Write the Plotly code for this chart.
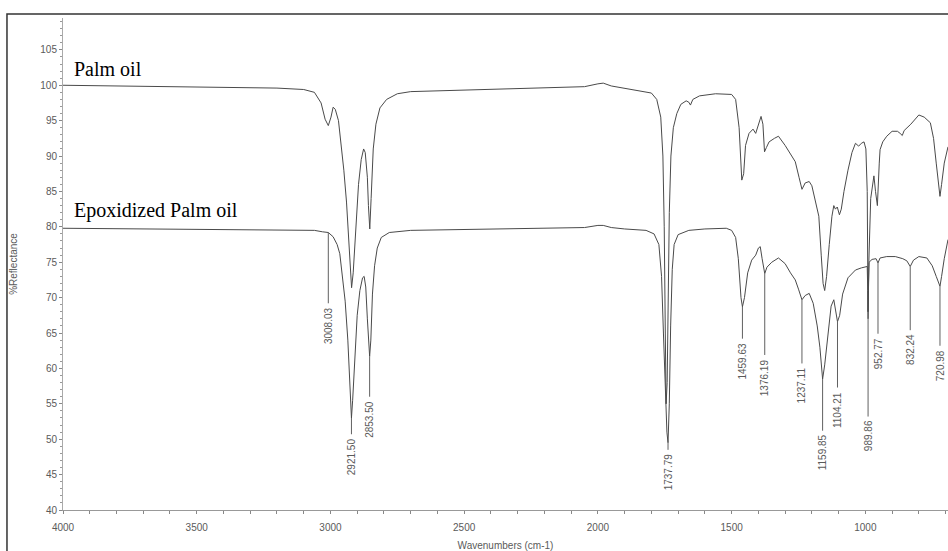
import plotly.graph_objects as go

# FT-IR spectra, wavenumber (cm-1) vs % reflectance
palm_wn = [4000, 3800, 3600, 3400, 3200, 3100, 3060, 3035, 3020, 3008, 2998, 2990, 2982,
           2970, 2960, 2950, 2940, 2932, 2925, 2921, 2915, 2905, 2895, 2885, 2876, 2870,
           2862, 2858, 2853, 2848, 2840, 2830, 2815, 2790, 2750, 2700, 2600, 2400, 2200,
           2050, 2000, 1980, 1950, 1900, 1850, 1800, 1780, 1765, 1757, 1752, 1748, 1745,
           1741, 1737, 1733, 1727, 1718, 1705, 1690, 1670, 1660, 1654, 1645, 1620, 1560,
           1500, 1485, 1472, 1465, 1462, 1455, 1448, 1435, 1420, 1410, 1400, 1390, 1383,
           1377, 1370, 1360, 1340, 1325, 1300, 1280, 1262, 1248, 1237, 1225, 1210, 1200,
           1185, 1174, 1165, 1158, 1152, 1145, 1135, 1125, 1118, 1112, 1105, 1097, 1090,
           1080, 1065, 1050, 1037, 1025, 1015, 1005, 998, 993, 990, 987, 980, 968, 962,
           955, 948, 945, 935, 920, 900, 880, 870, 862, 855, 830, 800, 780, 757, 745,
           735, 726, 721, 715, 705, 691]
palm_pct = [100.0, 99.9, 99.8, 99.7, 99.6, 99.4, 99.0, 97.5, 95.2, 94.3, 95.5, 96.9, 96.6,
            95.0, 91.5, 88.0, 83.5, 78.0, 73.0, 71.4, 73.5, 80.0, 86.0, 89.5, 91.0, 90.5,
            87.0, 83.0, 79.7, 84.0, 91.0, 94.5, 96.8, 98.0, 98.8, 99.1, 99.2, 99.4, 99.6,
            99.8, 100.2, 100.3, 99.9, 99.6, 99.3, 98.9, 98.0, 95.5, 90.0, 80.0, 65.0, 55.0,
            58.0, 70.0, 82.0, 90.0, 94.0, 96.0, 97.3, 97.8, 97.6, 97.2, 98.0, 98.5, 98.8,
            98.7, 98.0, 94.0, 88.0, 86.6, 87.5, 91.5, 93.2, 93.8, 93.2, 94.5, 95.6, 94.5,
            90.6, 91.2, 92.0, 92.5, 92.8, 91.5, 90.3, 89.2, 87.0, 85.3, 86.2, 86.4, 85.8,
            83.5, 81.5, 76.0, 72.0, 71.0, 73.0, 77.5, 81.5, 83.0, 82.5, 82.8, 81.7, 82.5,
            85.0, 88.0, 90.5, 91.8, 91.4, 91.8, 92.0, 91.0, 85.0, 68.0, 75.0, 84.0, 87.2, 85.0,
            83.0, 89.0, 90.9, 92.0, 92.8, 93.5, 93.5, 93.2, 92.9, 93.6, 94.5, 95.8,
            95.5, 94.7, 92.5, 89.0, 85.5, 84.3, 86.0, 89.0, 91.3]

epox_wn = [4000, 3600, 3300, 3100, 3060, 3030, 3008, 2990, 2975, 2965, 2955, 2945, 2935,
           2928, 2924, 2921.5, 2917, 2910, 2900, 2890, 2880, 2874, 2868, 2862, 2856, 2853.5,
           2849, 2843, 2835, 2825, 2810, 2780, 2700, 2500, 2200, 2050, 2000, 1980, 1950,
           1900, 1820, 1790, 1772, 1762, 1755, 1748, 1742, 1737.79, 1733, 1728, 1722, 1715,
           1700, 1660, 1600, 1520, 1500, 1485, 1475, 1465, 1459.63, 1452, 1440, 1425, 1410,
           1400, 1393, 1386, 1376.19, 1368, 1350, 1325, 1300, 1280, 1262, 1250, 1237.11,
           1225, 1210, 1195, 1180, 1170, 1159.85, 1152, 1140, 1128, 1118, 1110, 1104.21,
           1096, 1085, 1065, 1037, 1015, 1000, 993, 991, 989.86, 988.5, 986, 975, 960,
           952.77, 945, 920, 888, 860, 845, 832.24, 820, 800, 770, 750, 735, 725, 720.98,
           715, 705, 691]
epox_pct = [79.8, 79.7, 79.6, 79.6, 79.5, 79.3, 79.2, 78.6, 77.5, 76.2, 73.0, 69.5, 64.0,
            58.0, 54.5, 53.0, 55.5, 61.0, 67.5, 71.0, 72.8, 73.0, 71.5, 67.0, 63.0, 61.7,
            64.0, 70.5, 74.5, 77.0, 78.5, 79.2, 79.5, 79.6, 79.8, 79.9, 80.2, 80.2, 79.9,
            79.7, 79.5, 79.0, 77.5, 73.0, 65.0, 56.0, 51.0, 49.5, 55.0, 66.0, 74.0, 77.5,
            78.9, 79.5, 79.7, 79.8, 79.5, 78.5, 75.5, 70.0, 68.7, 70.0, 73.5, 75.3, 76.0,
            77.0, 77.2, 75.5, 73.4, 74.3, 75.0, 75.6, 74.8, 73.5, 72.5, 71.2, 69.7,
            70.3, 70.6, 69.2, 66.0, 63.0, 58.5, 60.5, 65.0, 68.8, 69.7, 68.0, 66.6,
            67.5, 70.5, 72.8, 73.9, 74.2, 74.4, 74.4, 71.0, 67.0, 71.0, 75.0, 75.4, 75.5,
            74.9, 75.6, 75.8, 75.8, 75.5, 75.2, 74.4, 75.3, 75.8, 75.6, 74.5, 73.0, 72.0, 71.6,
            73.0, 75.5, 78.2]

# labelled bands of the epoxidized spectrum
peak_wn = [3008.03, 2921.50, 2853.50, 1737.79, 1459.63, 1376.19, 1237.11, 1159.85,
           1104.21, 989.86, 952.77, 832.24, 720.98]
peak_pct = [79.2, 53.0, 61.7, 49.5, 68.7, 73.4, 69.7, 58.5, 66.6, 67.0, 74.9, 74.4, 71.6]
peak_text = ["3008.03", "2921.50", "2853.50", "1737.79", "1459.63", "1376.19", "1237.11",
             "1159.85", "1104.21", "989.86", "952.77", "832.24", "720.98"]
# leader length below each band, in % units
leader_len = [10.0, 2.3, 5.7, 1.0, 4.5, 11.5, 9.0, 7.3, 9.3, 13.8, 10.0, 9.0, 8.4]

line_col = "#4a4a4a"
text_col = "#5a5a5a"

fig = go.Figure()
fig.add_trace(go.Scatter(x=palm_wn, y=palm_pct, mode="lines",
                         line=dict(color=line_col, width=1), showlegend=False))
fig.add_trace(go.Scatter(x=epox_wn, y=epox_pct, mode="lines",
                         line=dict(color=line_col, width=1), showlegend=False))

for wn, v, t, ln in zip(peak_wn, peak_pct, peak_text, leader_len):
    fig.add_shape(type="line", x0=wn, x1=wn, y0=v, y1=v - ln,
                  line=dict(color="#606060", width=1))
    fig.add_annotation(x=wn, y=v - ln, text=t, textangle=-90, showarrow=False,
                       xanchor="center", yanchor="top", yshift=-2,
                       font=dict(family="Liberation Sans", size=10, color=text_col))

fig.add_annotation(xref="paper", yref="y", x=0.01, y=100, text="Palm oil",
                   showarrow=False, xanchor="left", yanchor="bottom", yshift=3,
                   font=dict(family="Liberation Serif", size=20, color="#000000"))
fig.add_annotation(xref="paper", yref="y", x=0.01, y=80, text="Epoxidized Palm oil",
                   showarrow=False, xanchor="left", yanchor="bottom", yshift=3,
                   font=dict(family="Liberation Serif", size=20, color="#000000"))

# outer frame
fig.add_shape(type="rect", xref="paper", yref="paper", x0=-0.0633, x1=1.02,
              y0=-0.2, y1=1.008, line=dict(color="#333333", width=1.5), layer="below")

axis_font = dict(family="Liberation Sans", size=10, color=text_col)
fig.update_xaxes(range=[4000, 691], showgrid=False, zeroline=False,
                 showline=True, linecolor="#999999", linewidth=1,
                 tickmode="array", tickvals=[4000, 3500, 3000, 2500, 2000, 1500, 1000],
                 ticks="outside", ticklen=3, tickcolor="#888888",
                 minor=dict(dtick=100, ticks="outside", ticklen=3, tickcolor="#888888"),
                 tickfont=axis_font, ticklabelstandoff=5,
                 title=dict(text="Wavenumbers (cm-1)", font=axis_font, standoff=9))
fig.update_yaxes(range=[40, 109.5], showgrid=False, zeroline=False,
                 showline=True, linecolor="#aaaaaa", linewidth=1,
                 tick0=40, dtick=5, ticks="outside", ticklen=3, tickcolor="#888888",
                 minor=dict(dtick=1, ticks="outside", ticklen=2, tickcolor="#999999"),
                 tickfont=axis_font,
                 title=dict(text="%Reflectance", font=axis_font, standoff=20))

fig.update_layout(width=948, height=551, margin=dict(l=63, r=0, t=18, b=41),
                  paper_bgcolor="white", plot_bgcolor="white")

fig.write_html("out.html")
